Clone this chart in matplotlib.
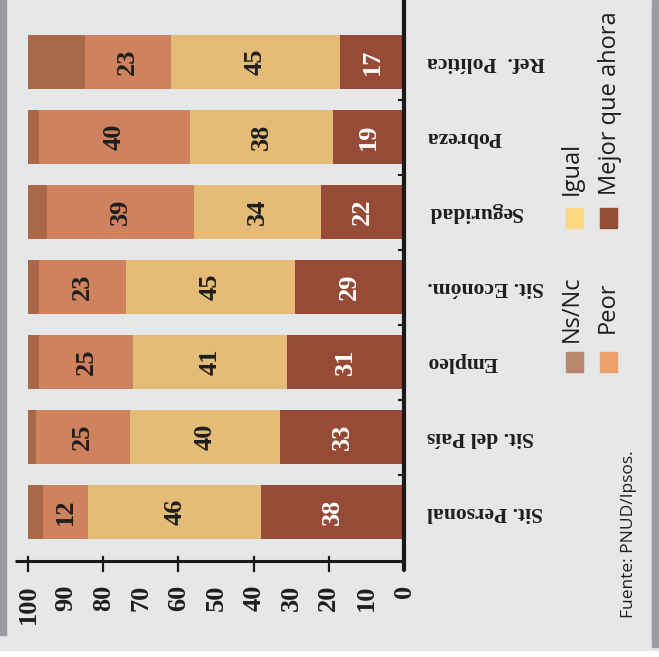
import matplotlib.pyplot as plt
from matplotlib.patches import Rectangle
import numpy as np

W, H = 659, 657

categories = ['Sit. Personal', 'Sit. del País', 'Empleo', 'Sit. Económ.',
              'Seguridad', 'Pobreza', 'Ref.  Política']
mejor = [38, 33, 31, 29, 22, 19, 17]
igual = [46, 40, 41, 45, 34, 38, 45]
peor = [12, 25, 25, 23, 39, 40, 23]
nsnc = [4, 2, 3, 3, 5, 3, 15]
tick_values = list(range(0, 101, 10))

series_names = ['Mejor que ahora', 'Igual', 'Peor', 'Ns/Nc']
bar_colors = ['#974b37', '#e5bb78', '#cf825e', '#a96847']
legend_colors = {'Ns/Nc': '#b8876c', 'Peor': '#eba26c',
                 'Igual': '#ffd77e', 'Mejor que ahora': '#954c36'}

serif = 'Liberation Serif'
sans = 'Open Sans'


def fx(x):
	return x / W


def fy(y):
	return 1 - y / H


fig = plt.figure(figsize=(W / 100, H / 100), dpi=100)
fig.patch.set_facecolor('white')
# page background and grey edge stripes
fig.add_artist(Rectangle((0, fy(650)), 1, 650 / H, transform=fig.transFigure,
	color='#e6e7e9', zorder=-10))
fig.add_artist(Rectangle((0, fy(635)), fx(6), 635 / H, transform=fig.transFigure,
	color='#9b9ca0', zorder=-9))
fig.add_artist(Rectangle((fx(652), fy(647)), 1 - fx(652), 647 / H, transform=fig.transFigure,
	color='#9b9ca0', zorder=-9))

ax = fig.add_axes([fx(15), fy(561), fx(404) - fx(15), 561 / H])
ax.set_facecolor('none')
ax.set_xlim(103.5, 0)
ax.set_ylim(-0.653, 6.827)

y = np.arange(len(categories))
left = np.zeros(len(categories))
for name, vals, col in zip(series_names, [mejor, igual, peor, nsnc], bar_colors):
	vals = np.asarray(vals, dtype=float)
	ax.barh(y, vals, left=left, height=0.72, color=col, zorder=2)
	if name != 'Ns/Nc':
		tc = 'white' if name == 'Mejor que ahora' else '#1e1e1e'
		for yi, l, v in zip(y, left, vals):
			ax.text(l + v / 2, yi, '%d' % v, rotation=90, ha='center', va='center',
				fontsize=19, fontweight='bold', family=serif, color=tc, zorder=3)
	left = left + vals

for s in ax.spines.values():
	s.set_visible(False)

# axis lines, drawn by hand so they can run past the data area
trans = ax.get_xaxis_transform()
ax.plot([103.5, 0], [0, 0], transform=trans, color='#1a1a1a',
	lw=2.2, clip_on=False, zorder=4, solid_capstyle='butt')
ax.plot([0, 0], [-0.018, 1], transform=trans, color='#1a1a1a',
	lw=3, clip_on=False, zorder=4, solid_capstyle='butt')
for t in tick_values[::2]:
	ax.plot([t, t], [-0.018, 0.007], transform=trans, color='#1a1a1a',
		lw=1.6, clip_on=False, zorder=4)
for b in np.arange(0.5, 6.5, 1.0):
	ax.plot([0, 1.4], [b, b], color='#1a1a1a', lw=1.5, clip_on=False, zorder=4)

ax.set_xticks(tick_values)
ax.set_xticklabels([str(v) for v in tick_values], rotation=90,
	fontsize=19, fontweight='bold', family=serif, color='#1e1e1e')
ax.tick_params(axis='x', which='major', length=0, pad=17)
ax.set_yticks([])

for yi, c in zip(y, categories):
	ax.text(-6.1, yi, c, rotation=180, ha='left', va='center', fontsize=15.5,
		fontweight='bold', family=serif, color='#1e1e1e', clip_on=False)

# legend
legend_pos = [('Igual', 566, 208, 560, 195), ('Ns/Nc', 566, 352, 560, 342),
              ('Mejor que ahora', 600, 208, 598, 195), ('Peor', 600, 352, 596, 333)]
for name, sx, sy, tx, ty in legend_pos:
	fig.add_artist(Rectangle((fx(sx), fy(sy + 20)), 17 / W, 20 / H,
		transform=fig.transFigure, color=legend_colors[name]))
	fig.text(fx(tx), fy(ty), name, rotation=90, ha='left', va='bottom',
		fontsize=17, family=sans, color='#1e1e1e')

fig.text(fx(621), fy(618), 'Fuente: PNUD/Ipsos.', rotation=90, ha='left', va='bottom',
	fontsize=12.5, family=sans, color='#1e1e1e')

fig.savefig('out.png', dpi=100, facecolor=fig.get_facecolor())
